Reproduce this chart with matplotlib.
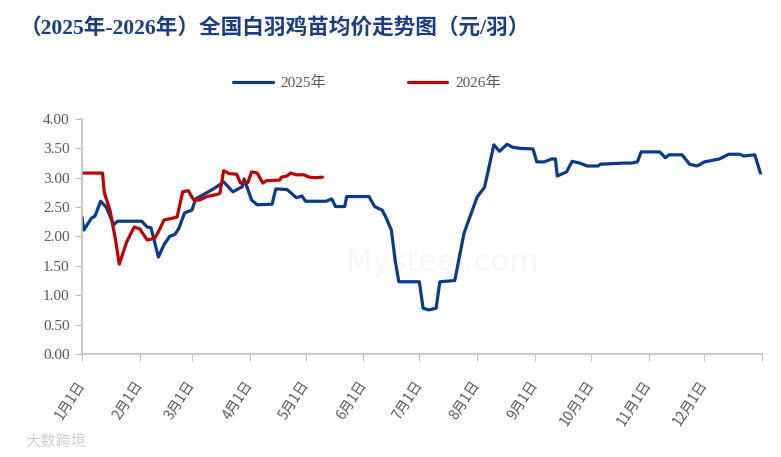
from typing import *

import datetime

import matplotlib
matplotlib.use("Agg")
import matplotlib.pyplot as plt


TITLE = "（2025年-2026年）全国白羽鸡苗均价走势图（元/羽）"

# 2025 series (month-day, yuan per chick)
dates2025 = [
    "01-01", "01-02", "01-06", "01-08", "01-11", "01-14", "01-18", "01-20",
    "02-02", "02-05", "02-07", "02-11", "02-14", "02-17", "02-20", "02-22",
    "02-25", "03-01", "03-03", "03-07", "03-13", "03-18", "03-23", "03-28",
    "03-29", "04-02", "04-05", "04-13", "04-15", "04-21", "04-26", "04-29",
    "05-01", "05-12", "05-15", "05-17", "05-22", "05-23", "06-04", "06-07",
    "06-11", "06-13", "06-16", "06-18", "06-20", "07-01", "07-03", "07-06",
    "07-10", "07-12", "07-20", "07-25", "08-01", "08-05", "08-10", "08-13",
    "08-17", "08-20", "08-24", "08-31", "09-02", "09-06", "09-10", "09-12",
    "09-13", "09-18", "09-21", "09-25", "09-29", "10-05", "10-06", "10-19",
    "10-23", "10-26", "10-28", "11-07", "11-10", "11-12", "11-19", "11-23",
    "11-27", "12-01", "12-09", "12-14", "12-20", "12-22", "12-28", "12-31",
]
prices2025 = [
    2.33, 2.11, 2.31, 2.35, 2.60, 2.50, 2.20, 2.26,
    2.26, 2.16, 2.15, 1.65, 1.86, 2.00, 2.04, 2.14,
    2.40, 2.45, 2.64, 2.71, 2.82, 2.93, 2.76, 2.85,
    2.98, 2.62, 2.54, 2.55, 2.81, 2.80, 2.66, 2.69,
    2.60, 2.60, 2.64, 2.51, 2.51, 2.68, 2.68, 2.51,
    2.45, 2.33, 2.11, 1.60, 1.23, 1.23, 0.78, 0.75,
    0.78, 1.23, 1.25, 2.06, 2.67, 2.84, 3.56, 3.45,
    3.57, 3.52, 3.50, 3.49, 3.27, 3.27, 3.32, 3.32,
    3.03, 3.10, 3.28, 3.25, 3.20, 3.20, 3.23, 3.25,
    3.25, 3.27, 3.44, 3.44, 3.34, 3.39, 3.39, 3.23,
    3.20, 3.27, 3.32, 3.40, 3.40, 3.37, 3.39, 3.08,
]

# 2026 series (month-day, yuan per chick)
dates2026 = [
    "01-01", "01-12", "01-13", "01-16", "01-19", "01-21", "01-25", "01-29",
    "02-01", "02-05", "02-09", "02-11", "02-14", "02-21", "02-24", "02-27",
    "03-02", "03-05", "03-09", "03-15", "03-16", "03-18", "03-21", "03-25",
    "03-27", "03-31", "04-02", "04-05", "04-08", "04-10", "04-17", "04-18",
    "04-21", "04-23", "04-26", "04-30", "05-03", "05-06", "05-10",
]
prices2026 = [
    3.08, 3.08, 2.74, 2.45, 1.94, 1.53, 1.91, 2.16,
    2.13, 1.94, 1.97, 2.08, 2.28, 2.33, 2.76, 2.78,
    2.62, 2.62, 2.68, 2.72, 2.74, 3.12, 3.07, 3.06,
    2.91, 2.92, 3.10, 3.08, 2.91, 2.95, 2.96, 3.01,
    3.03, 3.08, 3.05, 3.05, 3.01, 3.00, 3.01,
]

seriesNames = ["2025年", "2026年"]
seriesColors = ["#0b3a8a", "#c00000"]
monthLabels = [f"{m}月1日" for m in range(1, 13)] + [""]


def toDates(monthDays: List[str]) -> List[datetime.date]:
    # both years are drawn on the same calendar axis
    return [datetime.date.fromisoformat("2025-" + md) for md in monthDays]


def main() -> None:
    plt.rcParams["font.family"] = ["Liberation Serif", "Noto Sans CJK SC"]

    fig = plt.figure(figsize=(7.81, 4.57), dpi=100)
    ax = fig.add_axes([0.105, 0.2254, 0.871, 0.5142])

    # faint watermark seen on the source image
    ax.text(0.53, 0.39, "Mysteel.com", transform=ax.transAxes, ha="center",
            va="center", fontsize=22, color="#f6f6f6", family=["DejaVu Sans"],
            zorder=0)

    for name, color, dates, prices in [
        (seriesNames[0], seriesColors[0], dates2025, prices2025),
        (seriesNames[1], seriesColors[1], dates2026, prices2026),
    ]:
        ax.plot(toDates(dates), prices, color=color, linewidth=2.3,
                solid_joinstyle="round", solid_capstyle="round", label=name)

    gray = "#bfbfbf"
    textGray = "#595959"

    ax.set_ylim(0, 4)
    ax.set_yticks([i * 0.5 for i in range(9)])
    ax.set_yticklabels([f"{i * 0.5:.2f}" for i in range(9)])
    ax.set_xlim(datetime.date(2025, 1, 1), datetime.date(2026, 1, 1))
    xTicks = [datetime.date(2025, m, 1) for m in range(1, 13)] + [datetime.date(2026, 1, 1)]
    ax.set_xticks(xTicks)
    ax.set_xticklabels(monthLabels, rotation=57, ha="right", va="center",
                       rotation_mode="anchor", fontsize=10, color=textGray,
                       family=["Noto Sans CJK SC"])

    for side in ["top", "right"]:
        ax.spines[side].set_visible(False)
    for side in ["left", "bottom"]:
        ax.spines[side].set_color(gray)
        ax.spines[side].set_linewidth(1.2)

    ax.tick_params(axis="y", direction="out", length=5, color=gray,
                   labelsize=11, labelcolor=textGray, pad=4)
    ax.tick_params(axis="x", direction="out", length=5, color=gray, pad=15)

    fig.legend(loc="center", bbox_to_anchor=(0.47, 0.818), ncol=2, frameon=False,
               fontsize=11, labelcolor=textGray, handlelength=2.6, columnspacing=5.3,
               handletextpad=0.5)

    fig.text(0.025, 0.938, TITLE, ha="left", va="center", fontsize=15.6,
             fontweight="bold", color="#1b3c82",
             family=["Liberation Serif", "Noto Sans CJK SC"])

    fig.text(0.032, 0.035, "大数跨境", ha="left", va="center", fontsize=11,
             color="#d0d0d0", family=["Noto Sans CJK SC"])

    fig.savefig("out.png", dpi=100)


if __name__ == "__main__":
    main()
